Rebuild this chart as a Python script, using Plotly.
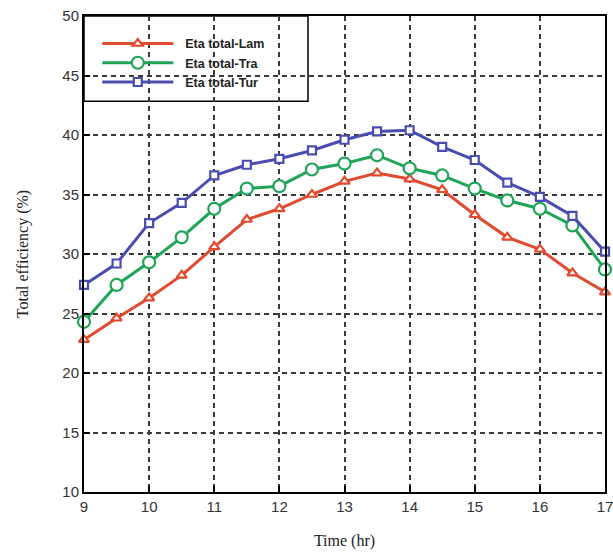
import plotly.graph_objects as go

time_hr = [9, 9.5, 10, 10.5, 11, 11.5, 12, 12.5, 13, 13.5, 14, 14.5, 15, 15.5, 16, 16.5, 17]
eta_lam = [22.8, 24.6, 26.3, 28.2, 30.6, 32.9, 33.8, 35.0, 36.1, 36.8, 36.3, 35.4, 33.3, 31.4, 30.4, 28.4, 26.8]
eta_tra = [24.3, 27.4, 29.3, 31.4, 33.8, 35.5, 35.7, 37.1, 37.6, 38.3, 37.2, 36.6, 35.5, 34.5, 33.8, 32.4, 28.7]
eta_tur = [27.4, 29.2, 32.6, 34.3, 36.6, 37.5, 38.0, 38.7, 39.6, 40.3, 40.4, 39.0, 37.9, 36.0, 34.8, 33.2, 30.2]

names = ["\u00a0\u00a0Eta total-Lam", "\u00a0\u00a0Eta total-Tra", "\u00a0\u00a0Eta total-Tur"]
colors = ["#e04a2e", "#1fa458", "#4a4db0"]
symbols = ["triangle-up", "circle", "square"]
sizes = [9, 12, 8]

fig = go.Figure()
for name, ys, c, s, sz in zip(names, [eta_lam, eta_tra, eta_tur], colors, symbols, sizes):
    fig.add_trace(go.Scatter(
        x=time_hr, y=ys, name=name, mode="lines+markers",
        line=dict(color=c, width=3),
        marker=dict(symbol=s, size=sz, color="white", line=dict(width=2.2, color=c)),
        cliponaxis=False,
    ))

axis_common = dict(
    showline=True, linecolor="black", linewidth=2, mirror=True,
    ticks="inside", ticklen=6, tickcolor="black", tickwidth=1.5,
    showgrid=True, gridcolor="#3a3a3a", gridwidth=1.5, griddash="5px,4px",
    zeroline=False, automargin=False, ticklabeloverflow="allow",
    tickfont=dict(family="Liberation Sans, Arial", size=15, color="#333"),
)

fig.update_xaxes(range=[9, 17], dtick=1, tick0=9,
                 title=dict(text="Time (hr)", font=dict(family="Liberation Serif, Times New Roman", size=16, color="#222"), standoff=21),
                 **axis_common)
fig.update_yaxes(range=[10, 50], dtick=5, tick0=10,
                 title=dict(text="Total efficiency (%)", font=dict(family="Liberation Serif, Times New Roman", size=16, color="#222"), standoff=30),
                 **axis_common)

fig.add_shape(type="rect", xref="paper", yref="paper", x0=0, x1=0.43, y0=0.821, y1=1,
              line=dict(color="black", width=1.5), fillcolor="white", layer="below")

fig.update_layout(
    width=613, height=552,
    margin=dict(l=84, r=8, t=16, b=60),
    paper_bgcolor="white", plot_bgcolor="white",
    showlegend=True,
    legend=dict(x=0.0255, y=0.973, xanchor="left", yanchor="top",
                bgcolor="rgba(0,0,0,0)", borderwidth=0,
                font=dict(family="Liberation Sans, Arial", size=12.5, color="#222", weight="bold"),
                itemwidth=71, tracegroupgap=0),
)

fig.write_html("out.html", config={"displayModeBar": False},
               post_script="document.body.style.margin='0';document.body.style.overflow='hidden';")
